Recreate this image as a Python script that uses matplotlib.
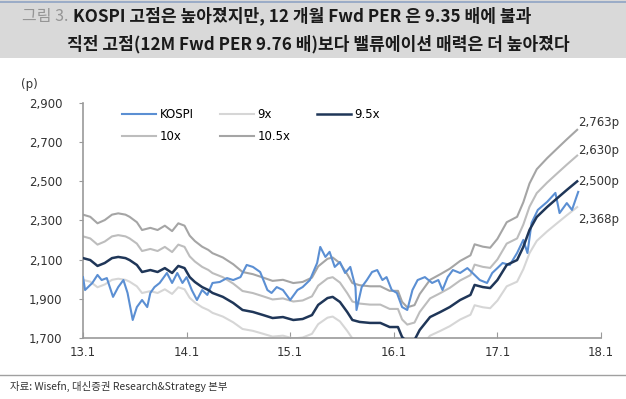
import matplotlib
matplotlib.use("Agg")
import numpy as np
import matplotlib.pyplot as plt
from matplotlib.patches import Rectangle
from matplotlib.lines import Line2D

# ── Data ──────────────────────────────────────────────────────────────────────
# 12M forward PER band at 9.5x (index points), dates as decimal years
T_BAND = [2013.00, 2013.07, 2013.14, 2013.21, 2013.28, 2013.34, 2013.41, 2013.45,
          2013.52, 2013.57, 2013.65, 2013.72, 2013.79, 2013.86, 2013.92, 2013.98,
          2014.03, 2014.08, 2014.15, 2014.21, 2014.25, 2014.35, 2014.45, 2014.54,
          2014.64, 2014.74, 2014.83, 2014.93, 2015.03, 2015.12, 2015.21, 2015.27,
          2015.36, 2015.41, 2015.48, 2015.55, 2015.60, 2015.67, 2015.77, 2015.87,
          2015.96, 2016.04, 2016.08, 2016.13, 2016.20, 2016.25, 2016.35, 2016.45,
          2016.54, 2016.64, 2016.74, 2016.78, 2016.86, 2016.93, 2017.00, 2017.09,
          2017.19, 2017.25, 2017.31, 2017.38, 2017.48, 2017.58, 2017.67, 2017.77]
BAND_95 = [2108, 2098, 2068, 2083, 2108, 2114, 2108, 2098, 2073, 2037,
           2047, 2037, 2057, 2032, 2068, 2057, 2011, 1986, 1960, 1945,
           1930, 1910, 1879, 1843, 1833, 1817, 1802, 1807, 1792, 1797,
           1817, 1869, 1904, 1910, 1884, 1833, 1792, 1782, 1777, 1777,
           1756, 1756, 1705, 1680, 1690, 1741, 1807, 1833, 1858, 1894,
           1920, 1971, 1960, 1955, 1996, 2073, 2098, 2165, 2252, 2318,
           2369, 2415, 2456, 2500]
MULTIPLES = [9.0, 10.0, 10.5]
BAND_NAMES = ["9x", "10x", "10.5x"]

# KOSPI index
T_KOSPI = [2013.00, 2013.02, 2013.09, 2013.14, 2013.18, 2013.23, 2013.29, 2013.34,
           2013.39, 2013.43, 2013.48, 2013.52, 2013.57, 2013.62, 2013.65, 2013.69,
           2013.74, 2013.81, 2013.86, 2013.91, 2013.96, 2014.00, 2014.05, 2014.10,
           2014.15, 2014.20, 2014.25, 2014.32, 2014.39, 2014.45, 2014.52, 2014.58,
           2014.64, 2014.71, 2014.78, 2014.82, 2014.87, 2014.93, 2015.00, 2015.07,
           2015.12, 2015.19, 2015.26, 2015.29, 2015.34, 2015.38, 2015.43, 2015.48,
           2015.53, 2015.58, 2015.63, 2015.64, 2015.69, 2015.74, 2015.79, 2015.84,
           2015.89, 2015.93, 2015.98, 2016.03, 2016.08, 2016.13, 2016.18, 2016.23,
           2016.30, 2016.37, 2016.43, 2016.47, 2016.52, 2016.57, 2016.64, 2016.71,
           2016.76, 2016.83, 2016.90, 2016.95, 2017.00, 2017.05, 2017.12, 2017.19,
           2017.25, 2017.29, 2017.33, 2017.39, 2017.48, 2017.56, 2017.60, 2017.67,
           2017.72, 2017.78]
KOSPI = [2011, 1945, 1981, 2022, 1996, 2006, 1910, 1960,
         1996, 1930, 1792, 1858, 1894, 1858, 1930, 1960,
         1981, 2032, 1981, 2032, 1981, 2011, 1945, 1894,
         1945, 1920, 1981, 1986, 2006, 1996, 2011, 2073,
         2063, 2037, 1945, 1930, 1960, 1945, 1894, 1945,
         1960, 1996, 2083, 2165, 2114, 2140, 2063, 2088,
         2032, 2063, 1960, 1843, 1960, 1996, 2037, 2047,
         1996, 2011, 1945, 1930, 1858, 1843, 1945, 1996,
         2011, 1981, 1996, 1945, 2011, 2047, 2032, 2057,
         2032, 1996, 1981, 2032, 2057, 2083, 2073, 2134,
         2201, 2134, 2288, 2354, 2395, 2441, 2338, 2389,
         2354, 2446]

END_LABELS = ["2,763p", "2,630p", "2,500p", "2,368p"]
END_VALUES = [2763, 2630, 2500, 2368]
END_OFFSETS = [5, 4, 0, -9]     # pt, nudge so labels don't collide

YTICKS = [1700, 1900, 2100, 2300, 2500, 2700, 2900]
XTICKS = [2013, 2014, 2015, 2016, 2017, 2018]
XTICK_LABELS = ["13.1", "14.1", "15.1", "16.1", "17.1", "18.1"]

TITLE_1 = "KOSPI 고점은 높아졌지만, 12 개월 Fwd PER 은 9.35 배에 불과"
TITLE_2 = "직전 고점(12M Fwd PER 9.76 배)보다 밸류에이션 매력은 더 높아졌다"
SOURCE = "자료: Wisefn, 대신증권 Research&Strategy 본부"

# ── Style ────────────────────────────────────────────────────────────────────
C_KOSPI = "#5b8fd3"
C_95 = "#1f3658"
BAND_COLORS = {"9x": "#d6d6d6", "10x": "#bdbdbd", "10.5x": "#a5a5a5"}
C_AXIS = "#9a9a9a"
KR = ["Noto Sans CJK KR", "DejaVu Sans"]

plt.rcParams["font.family"] = ["DejaVu Sans"]

fig = plt.figure(figsize=(6.26, 3.99), dpi=100)

# title bar
fig.patches.append(Rectangle((0, 1 - 58 / 399), 1, 58 / 399, transform=fig.transFigure,
                             facecolor="#d9d9d9", edgecolor="none", zorder=0))
fig.add_artist(Line2D([0, 1], [1 - 1.5 / 399] * 2, transform=fig.transFigure,
                      color="#8fa3c4", lw=1.2))
fig.text(22 / 626, 1 - 16 / 399, "그림 3.", family=KR, fontsize=11.5, color="#959595",
         va="center", ha="left")
fig.text(73 / 626, 1 - 16 / 399, TITLE_1, family=KR, fontsize=12.3, fontweight="bold",
         color="#1a1a1a", va="center", ha="left")
fig.text(67 / 626, 1 - 44 / 399, TITLE_2, family=KR, fontsize=12.3, fontweight="bold",
         color="#1a1a1a", va="center", ha="left")

# source footer
fig.add_artist(Line2D([0, 1], [1 - 375 / 399] * 2, transform=fig.transFigure,
                      color="#a0a0a0", lw=1.0))
fig.text(10 / 626, 1 - 386 / 399, SOURCE, family=KR, fontsize=7.5, color="#333333",
         va="center", ha="left")

ax = fig.add_axes([83 / 626, 1 - 338 / 399, (601 - 83) / 626, (338 - 103) / 399])

t_band = np.array(T_BAND)
eps = np.array(BAND_95) / 9.5      # implied 12M fwd EPS
handles = {}
for name, m in zip(BAND_NAMES, MULTIPLES):
    handles[name], = ax.plot(t_band, eps * m, color=BAND_COLORS[name], lw=1.5, label=name)
handles["9.5x"], = ax.plot(t_band, BAND_95, color=C_95, lw=1.8, label="9.5x", zorder=4)
handles["KOSPI"], = ax.plot(T_KOSPI, KOSPI, color=C_KOSPI, lw=1.5, label="KOSPI", zorder=3)

for lab, val, off in zip(END_LABELS, END_VALUES, END_OFFSETS):
    ax.annotate(lab, xy=(t_band[-1], val), xytext=(1, off), textcoords="offset points",
                fontsize=8.5, color="#333333", ha="left", va="center", annotation_clip=False)

ax.set_xlim(2013, 2018)
ax.set_ylim(1700, 2900)
ax.set_xticks(XTICKS)
ax.set_xticklabels(XTICK_LABELS)
ax.set_yticks(YTICKS)
ax.set_yticklabels([f"{v:,}" for v in YTICKS])
for s in ["top", "right"]:
    ax.spines[s].set_visible(False)
for s in ["left", "bottom"]:
    ax.spines[s].set_color(C_AXIS)
    ax.spines[s].set_linewidth(1.2)
ax.tick_params(axis="x", direction="in", length=4, color=C_AXIS, labelsize=8.5,
               labelcolor="#333333", pad=6)
ax.tick_params(axis="y", direction="out", length=3, color=C_AXIS, labelsize=8.5,
               labelcolor="#333333", pad=12)
ax.text(-0.12, 1.08, "(p)", transform=ax.transAxes, fontsize=8.5, color="#333333",
        ha="left", va="center")

order = ["KOSPI", "10x", "9x", "10.5x", "9.5x"]
ax.legend([handles[k] for k in order], order, ncol=3, loc="upper left",
          bbox_to_anchor=((122 - 83) / 518, 1 - 5 / 235), frameon=False, fontsize=8.5,
          handlelength=2.9, handletextpad=0.3, columnspacing=2.2, labelspacing=0.8,
          borderaxespad=0, borderpad=0)

fig.savefig("out.png", dpi=100, facecolor="white")
